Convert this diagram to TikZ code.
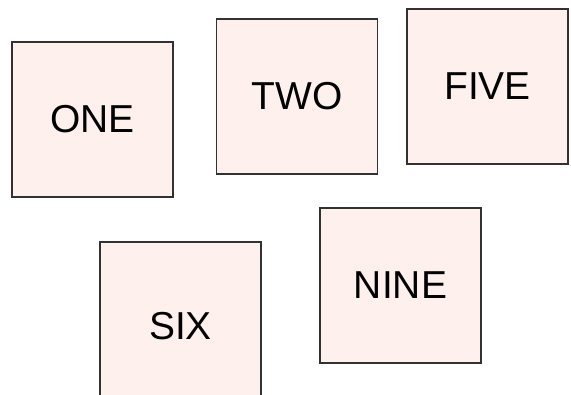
\documentclass[tikz,border=0pt]{standalone}
\usepackage{fontspec}
\setmainfont{Liberation Sans}
\usepackage{tikz}
\usetikzlibrary{positioning}
\definecolor{cardPink}{RGB}{254,240,237}
\definecolor{edgeGray}{RGB}{50,50,50}
\tikzset{
  card/.style={draw=edgeGray, fill=cardPink, line width=0.9pt, inner sep=0pt,
               minimum width=4.025cm, minimum height=3.875cm,
               font=\fontsize{27.7}{33}\selectfont}
}
\begin{document}
\begin{tikzpicture}[x=0.025cm, y=-0.025cm]
\clip (0,0) rectangle (571,394);
\node[card] (one) at (92.5,119.5) {ONE};
\node[card] (two) at (297,96.5) {TWO};
\node[card] (five) at (487.5,86.5) {FIVE};
% box runs past the lower edge
\node[card, minimum height=4.2cm] (six) at (180.5,326) {SIX};
\node[card] (nine) at (400.5,285.5) {NINE};
\end{tikzpicture}
\end{document}
